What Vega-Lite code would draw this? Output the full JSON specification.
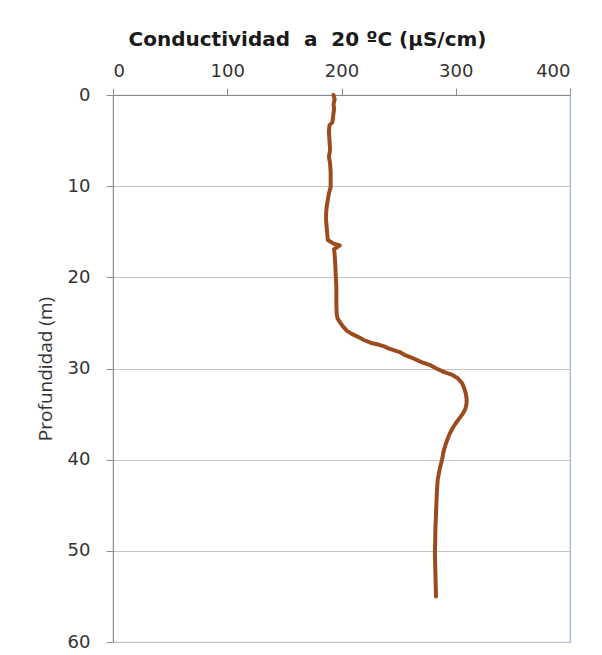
{
  "$schema": "https://vega.github.io/schema/vega-lite/v6.json",
  "autosize": {"type": "none"},
  "padding": {"left": 113, "top": 95, "right": 32, "bottom": 13},
  "width": 457,
  "height": 547,
  "background": "white",
  "title": {
    "text": "Conductividad\u00a0 a\u00a0 20 ºC (µS/cm)",
    "font": "DejaVu Sans",
    "fontSize": 20,
    "fontWeight": "bold",
    "color": "#1a1a1a",
    "anchor": "middle",
    "dx": -34,
    "offset": 12
  },
  "data": {
    "values": [
      {"profundidad": 0, "conductividad": 193},
      {"profundidad": 0.5, "conductividad": 194},
      {"profundidad": 1, "conductividad": 193},
      {"profundidad": 1.5, "conductividad": 193.5},
      {"profundidad": 2, "conductividad": 193},
      {"profundidad": 2.5, "conductividad": 192.5},
      {"profundidad": 3, "conductividad": 192},
      {"profundidad": 3.3, "conductividad": 189.5},
      {"profundidad": 4, "conductividad": 189},
      {"profundidad": 5, "conductividad": 189.5},
      {"profundidad": 6, "conductividad": 190},
      {"profundidad": 6.8, "conductividad": 189},
      {"profundidad": 7.5, "conductividad": 190},
      {"profundidad": 8.5, "conductividad": 190.5},
      {"profundidad": 9.5, "conductividad": 190.5},
      {"profundidad": 10.1, "conductividad": 190.5},
      {"profundidad": 10.8, "conductividad": 189},
      {"profundidad": 11.5, "conductividad": 188},
      {"profundidad": 12.3, "conductividad": 187},
      {"profundidad": 13, "conductividad": 186.5},
      {"profundidad": 13.7, "conductividad": 186.5},
      {"profundidad": 14.5, "conductividad": 187},
      {"profundidad": 15.2, "conductividad": 187.5},
      {"profundidad": 15.9, "conductividad": 188},
      {"profundidad": 16.3, "conductividad": 193},
      {"profundidad": 16.5, "conductividad": 198.5},
      {"profundidad": 16.7, "conductividad": 196},
      {"profundidad": 16.9, "conductividad": 193.5},
      {"profundidad": 17.5, "conductividad": 194},
      {"profundidad": 18.5, "conductividad": 194.5},
      {"profundidad": 19.9, "conductividad": 195},
      {"profundidad": 21, "conductividad": 195.5},
      {"profundidad": 22, "conductividad": 195.5},
      {"profundidad": 23, "conductividad": 195.5},
      {"profundidad": 24, "conductividad": 195.8},
      {"profundidad": 24.5, "conductividad": 196.5},
      {"profundidad": 25, "conductividad": 199},
      {"profundidad": 25.5, "conductividad": 202},
      {"profundidad": 25.9, "conductividad": 205},
      {"profundidad": 26.2, "conductividad": 209},
      {"profundidad": 26.5, "conductividad": 214},
      {"profundidad": 26.9, "conductividad": 220},
      {"profundidad": 27.2, "conductividad": 226},
      {"profundidad": 27.4, "conductividad": 233},
      {"profundidad": 27.6, "conductividad": 238},
      {"profundidad": 27.8, "conductividad": 241},
      {"profundidad": 28.2, "conductividad": 251},
      {"profundidad": 28.5, "conductividad": 255},
      {"profundidad": 28.9, "conductividad": 263},
      {"profundidad": 29.3, "conductividad": 270},
      {"profundidad": 29.6, "conductividad": 277},
      {"profundidad": 30, "conductividad": 283},
      {"profundidad": 30.4, "conductividad": 290},
      {"profundidad": 30.7, "conductividad": 297},
      {"profundidad": 31.1, "conductividad": 302},
      {"profundidad": 31.6, "conductividad": 305.5},
      {"profundidad": 32.2, "conductividad": 307.5},
      {"profundidad": 32.7, "conductividad": 308.7},
      {"profundidad": 33.3, "conductividad": 309.5},
      {"profundidad": 33.8, "conductividad": 309.5},
      {"profundidad": 34.4, "conductividad": 308.5},
      {"profundidad": 34.9, "conductividad": 306.5},
      {"profundidad": 35.5, "conductividad": 303},
      {"profundidad": 36, "conductividad": 300},
      {"profundidad": 36.5, "conductividad": 297.5},
      {"profundidad": 37.2, "conductividad": 294.5},
      {"profundidad": 38.2, "conductividad": 291.5},
      {"profundidad": 39, "conductividad": 289.5},
      {"profundidad": 40, "conductividad": 288},
      {"profundidad": 41, "conductividad": 286},
      {"profundidad": 42.2, "conductividad": 284.2},
      {"profundidad": 43.5, "conductividad": 283.5},
      {"profundidad": 45, "conductividad": 283},
      {"profundidad": 46, "conductividad": 282.7},
      {"profundidad": 47.5, "conductividad": 282.2},
      {"profundidad": 49, "conductividad": 282},
      {"profundidad": 50.1, "conductividad": 281.8},
      {"profundidad": 51.5, "conductividad": 282},
      {"profundidad": 53, "conductividad": 282.3},
      {"profundidad": 54, "conductividad": 282.5},
      {"profundidad": 55, "conductividad": 282.7}
    ]
  },
  "mark": {"type": "line", "color": "#9C4B1C", "strokeWidth": 4, "strokeCap": "round", "strokeJoin": "round"},
  "encoding": {
    "x": {
      "field": "conductividad",
      "type": "quantitative",
      "scale": {"domain": [0, 400], "nice": false, "zero": false},
      "axis": {
        "orient": "top",
        "values": [0, 100, 200, 300, 400],
        "title": null,
        "grid": false,
        "domainColor": "#8c8c8c",
        "tickColor": "#8c8c8c",
        "tickSize": 7,
        "labelPadding": 8,
        "labelFont": "DejaVu Sans",
        "labelFontSize": 18,
        "labelColor": "#333333"
      }
    },
    "y": {
      "field": "profundidad",
      "type": "quantitative",
      "scale": {"domain": [0, 60], "reverse": true, "nice": false, "zero": false},
      "axis": {
        "values": [0, 10, 20, 30, 40, 50, 60],
        "title": "Profundidad (m)",
        "titleFont": "Open Sans",
        "titleFontSize": 19,
        "titleFontWeight": "normal",
        "titleColor": "#333333",
        "titlePadding": 12,
        "grid": true,
        "gridColor": "#c4c4c4",
        "domainColor": "#8c8c8c",
        "tickColor": "#8c8c8c",
        "tickSize": 7,
        "labelPadding": 16,
        "labelFont": "DejaVu Sans",
        "labelFontSize": 18,
        "labelColor": "#333333"
      }
    },
    "order": {"field": "profundidad", "type": "quantitative"}
  },
  "config": {
    "view": {"stroke": "#95B3D7", "strokeWidth": 1.2}
  }
}
